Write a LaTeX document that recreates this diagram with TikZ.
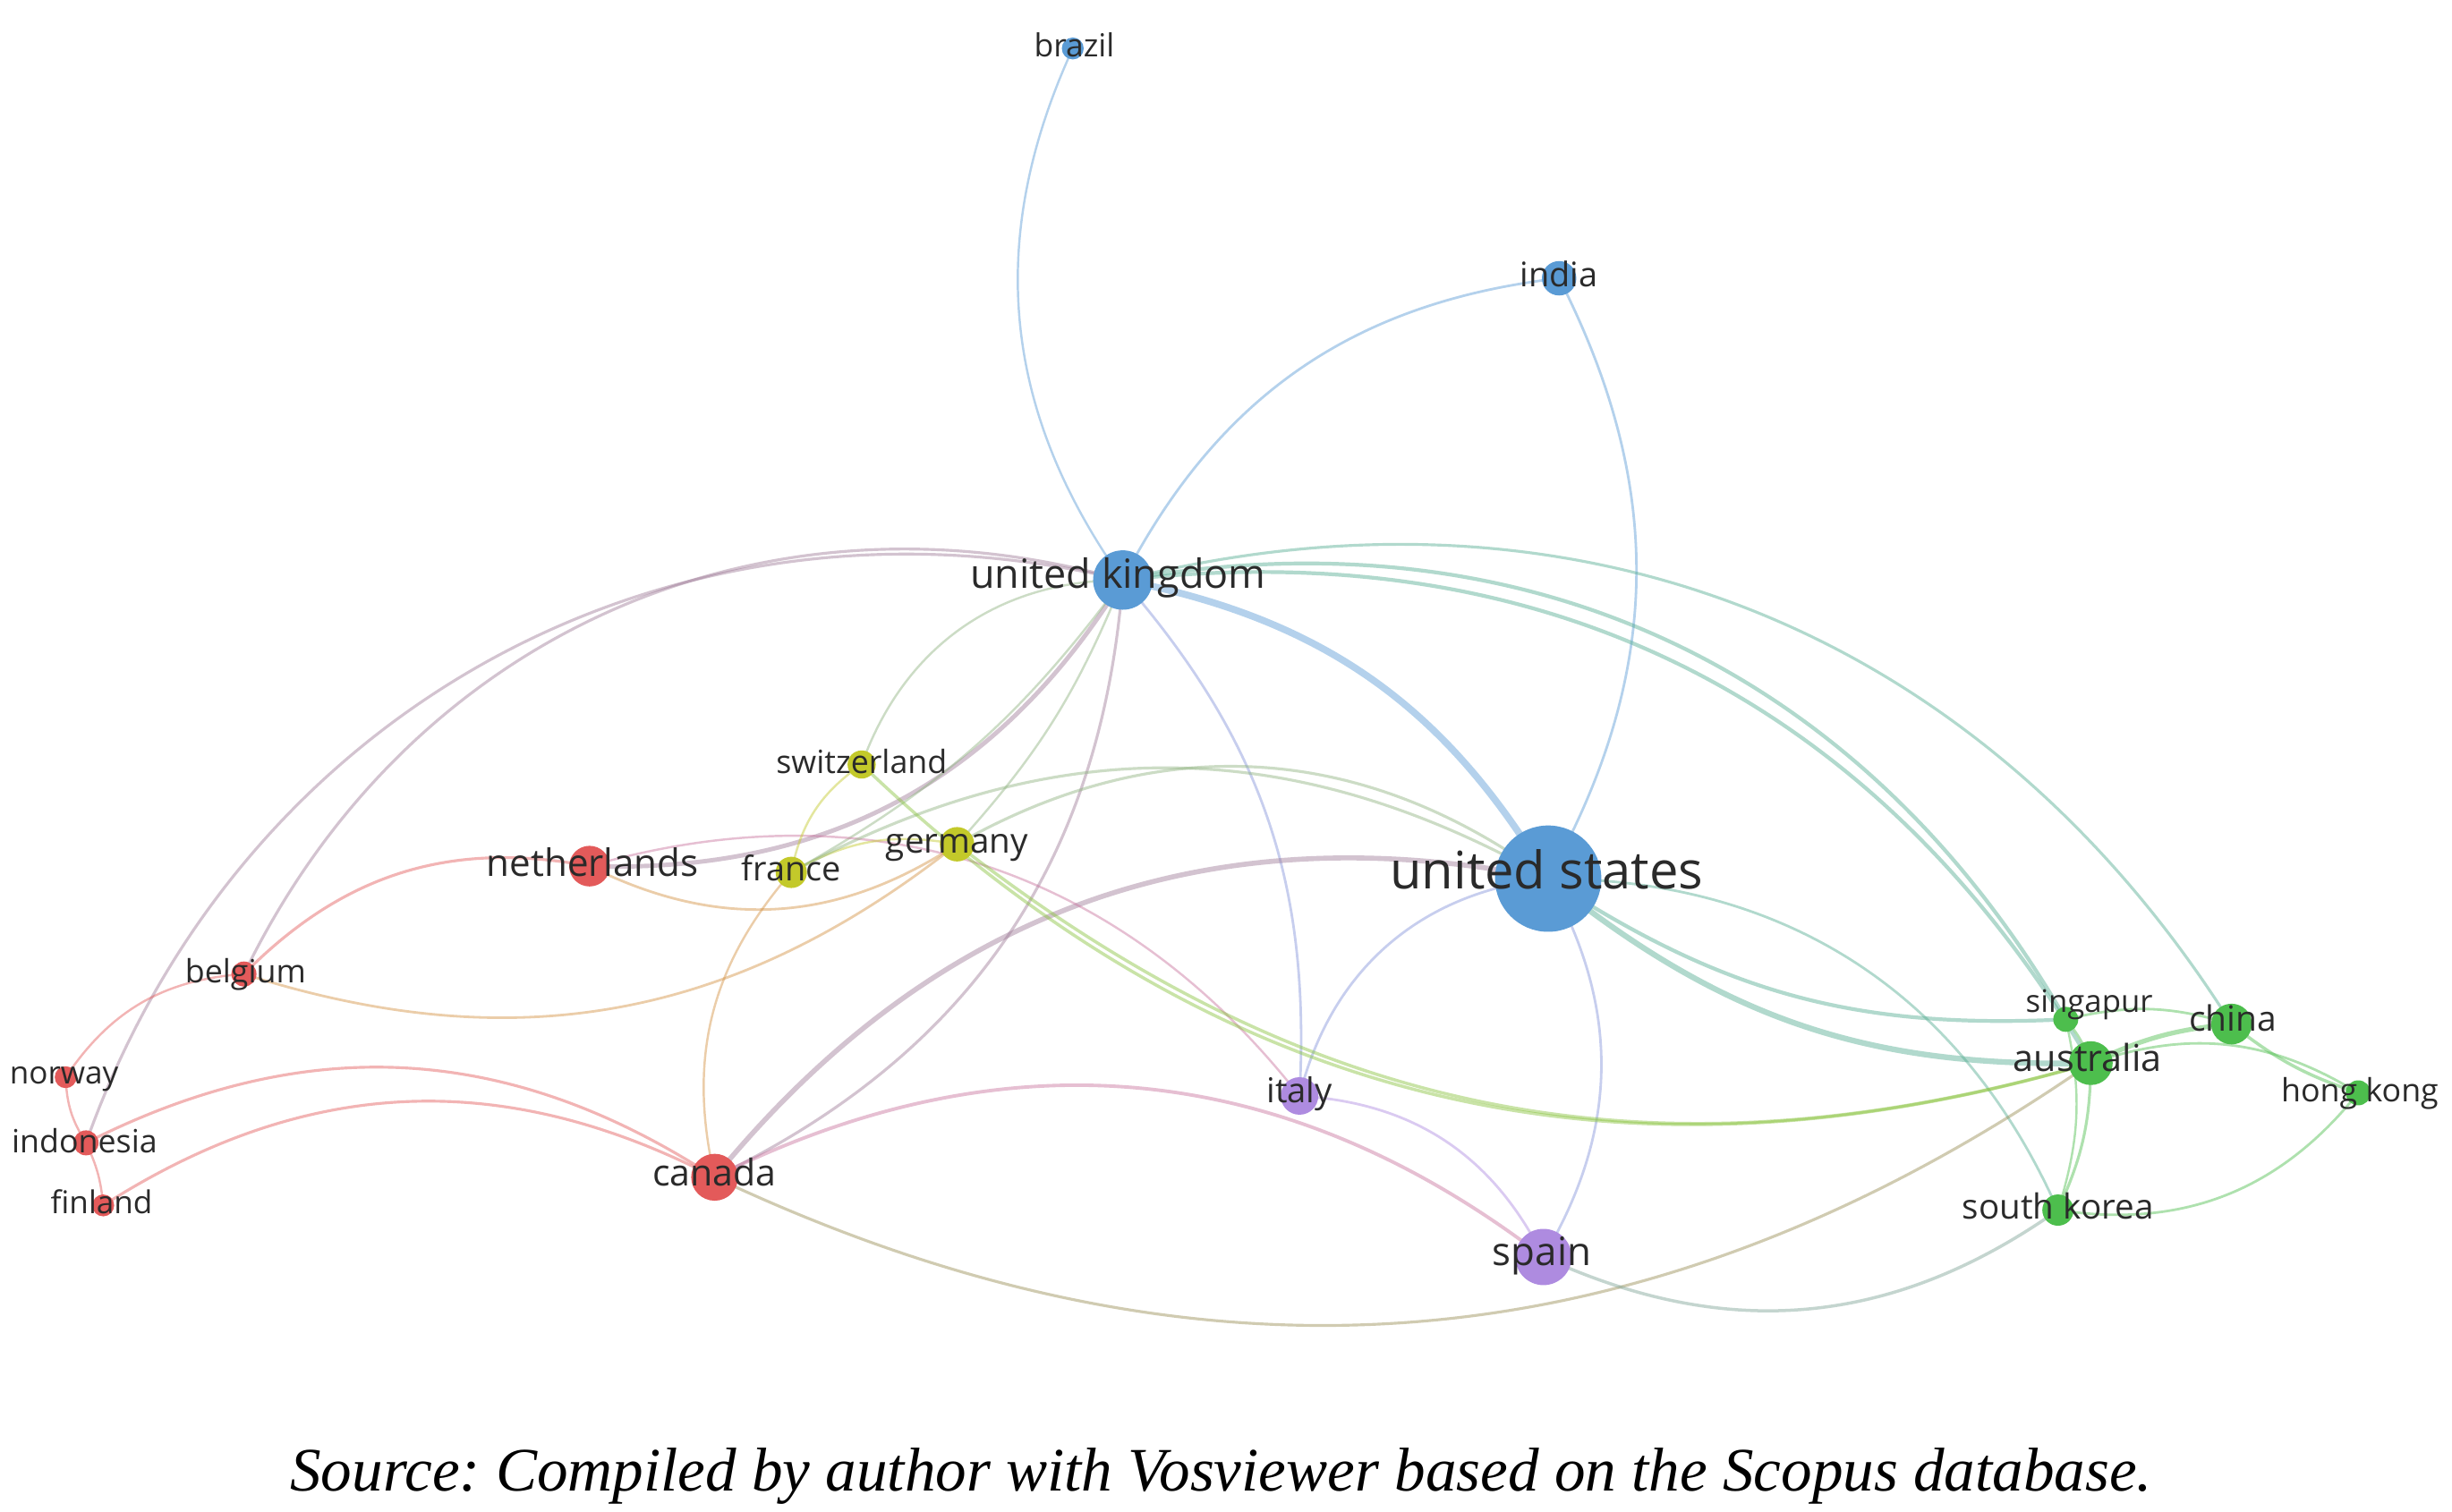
\documentclass[tikz,border=0pt]{standalone}
\usepackage{fontspec}
\setmainfont{Liberation Serif}
\newfontfamily\labfont{Open Sans}
\definecolor{cblu}{HTML}{5A9BD5}
\definecolor{cred}{HTML}{E35A5A}
\definecolor{cyel}{HTML}{C3C92A}
\definecolor{cgrn}{HTML}{4DBE4D}
\definecolor{cpur}{HTML}{AE8BE0}
\definecolor{ink}{HTML}{2A2A2A}
\pgfdeclarelayer{paper}
\pgfdeclarelayer{links}
\pgfsetlayers{paper,links,main}

\begin{document}
\frenchspacing
\begin{tikzpicture}[
  x=0.0175cm, y=-0.0175cm,
  dot/.style={circle, fill=#1, draw=none, inner sep=0pt},
  lab/.style={font=\labfont\fontsize{#1}{#1}\selectfont, text=ink, inner sep=0pt,
    text height=.9em, text depth=.15em},
  link/.style={line cap=round, draw opacity=.45},
]
  % Page frame, in pixels of the shrunk view (y grows downwards).
  \begin{pgfonlayer}{paper}
    \fill[white] (0,0) rectangle (1568,967);
  \end{pgfonlayer}
  \useasboundingbox (0,0) rectangle (1568,967);

  % Blue cluster.
  \node[dot=cblu, minimum size=.245cm] (bra) at (686,31) {};
  \node[dot=cblu, minimum size=.385cm] (ind) at (997,178) {};
  \node[dot=cblu, minimum size=.665cm] (uk) at (718,371) {};
  \node[dot=cblu, minimum size=1.19cm] (us) at (990,562) {};

  % Yellow cluster.
  \node[dot=cyel, minimum size=.315cm] (swi) at (551,489) {};
  \node[dot=cyel, minimum size=.385cm] (ger) at (612,540) {};
  \node[dot=cyel, minimum size=.35cm] (fra) at (506,558) {};

  % Red cluster.
  \node[dot=cred, minimum size=.455cm] (net) at (377,554) {};
  \node[dot=cred, minimum size=.28cm] (bel) at (156,623) {};
  \node[dot=cred, minimum size=.245cm] (nor) at (42,689) {};
  \node[dot=cred, minimum size=.28cm] (ino) at (55,731) {};
  \node[dot=cred, minimum size=.245cm] (fin) at (66,771) {};
  \node[dot=cred, minimum size=.525cm] (can) at (457,753) {};

  % Purple cluster.
  \node[dot=cpur, minimum size=.42cm] (ita) at (831,701) {};
  \node[dot=cpur, minimum size=.63cm] (spa) at (987,804) {};

  % Green cluster.
  \node[dot=cgrn, minimum size=.28cm] (sin) at (1321,652) {};
  \node[dot=cgrn, minimum size=.49cm] (aus) at (1337,680) {};
  \node[dot=cgrn, minimum size=.455cm] (chn) at (1427,655) {};
  \node[dot=cgrn, minimum size=.28cm] (hk) at (1508,699) {};
  \node[dot=cgrn, minimum size=.35cm] (sko) at (1316,774) {};

  % Co-authorship links: from/to/colour/width/bend (negative bends right).
  \begin{pgfonlayer}{links}
    \foreach \a/\b/\c/\w/\bb in {
      bra/uk/cblu/.7pt/-30, ind/uk/cblu/.8pt/-28, ind/us/cblu/.8pt/28,
      uk/us/cblu/2.2pt/24, uk/ita/cblu!50!cpur/.8pt/22, us/ita/cblu!50!cpur/.8pt/-35,
      us/spa/cblu!50!cpur/.8pt/30, uk/can/cblu!50!cred/.9pt/30,
      uk/net/cblu!50!cred/1.4pt/30, uk/bel/cblu!50!cred/.9pt/-40,
      uk/ino/cblu!50!cred/.9pt/-42, uk/swi/cblu!50!cyel/.7pt/-35,
      uk/fra/cblu!50!cyel/.7pt/12, uk/ger/cblu!50!cyel/.7pt/10,
      uk/chn/cblu!50!cgrn/.9pt/36, uk/sin/cblu!50!cgrn/1.2pt/35,
      uk/aus/cblu!50!cgrn/1.2pt/33, us/aus/cblu!50!cgrn/1.8pt/-20,
      us/sin/cblu!50!cgrn/1.2pt/-18, us/sko/cblu!50!cgrn/.8pt/33,
      can/us/cred!50!cblu/1.6pt/31, can/spa/cred!50!cpur/1.1pt/32,
      can/aus/cred!50!cgrn/.9pt/-30, spa/sko/cpur!50!cgrn/1pt/-30,
      ita/spa/cpur/.8pt/30, net/ita/cred!50!cpur/.7pt/34,
      net/bel/cred/.9pt/-28, net/ger/cred!50!cyel/.8pt/-30,
      bel/ger/cred!50!cyel/.8pt/-28, bel/nor/cred/.7pt/-26,
      nor/ino/cred/.7pt/-15, ino/fin/cred/.7pt/10,
      ino/can/cred/.9pt/30, fin/can/cred/.9pt/30,
      fra/can/cyel!50!cred/.7pt/-27, swi/fra/cyel/.7pt/-22,
      fra/ger/cyel/.7pt/20, ger/us/cyel!50!cblu/.9pt/33,
      fra/us/cyel!50!cblu/.9pt/29, ger/aus/cyel!50!cgrn/1pt/-27,
      swi/aus/cyel!50!cgrn/1pt/-30, sin/chn/cgrn/.8pt/15,
      aus/chn/cgrn/1.5pt/10, sin/aus/cgrn/.8pt/10,
      chn/hk/cgrn/1pt/-10, aus/hk/cgrn/.8pt/25,
      aus/sko/cgrn/.9pt/12, sin/sko/cgrn/.7pt/15, sko/hk/cgrn/.8pt/-30} {
      \draw[link, draw=\c, line width=\w] (\a.center) to[bend left=\bb] (\b.center);
    }
  \end{pgfonlayer}

  % Country labels, set over their circles.
  \node[lab=10.1] (tbra) at (687,29) {brazil};
  \node[lab=10.8] (tind) at (997,176) {india};
  \node[lab=12.8] (tuk) at (715,369) {united kingdom};
  \node[lab=16.5] (tus) at (989,561) {united states};
  \node[lab=10.2] (tswi) at (551,487) {switzerland};
  \node[lab=11] (tger) at (612,538) {germany};
  \node[lab=10.8] (tfra) at (506,556) {france};
  \node[lab=12] (tnet) at (379,553) {netherlands};
  \node[lab=10.2] (tbel) at (157,621) {belgium};
  \node[lab=10] (tnor) at (41,686) {norway};
  \node[lab=10.2] (tino) at (54,730) {indonesia};
  \node[lab=10] (tfin) at (65,769) {finland};
  \node[lab=11.7] (tcan) at (457,751) {canada};
  \node[lab=10.9] (tita) at (831,698) {italy};
  \node[lab=12.5] (tspa) at (986,802) {spain};
  \node[lab=9.9] (tsin) at (1336,640) {singapur};
  \node[lab=11.8] (taus) at (1335,678) {australia};
  \node[lab=11.1] (tchn) at (1428,652) {china};
  \node[lab=10.2] (thk) at (1509,697) {hong kong};
  \node[lab=11] (tsko) at (1316,772) {south korea};

  % Source line.
  \node[font=\itshape\fontsize{19.7}{22}\selectfont] (src) at (781,944)
    {Source: Compiled by author with Vosviewer based on the Scopus database.};
\end{tikzpicture}
\end{document}
